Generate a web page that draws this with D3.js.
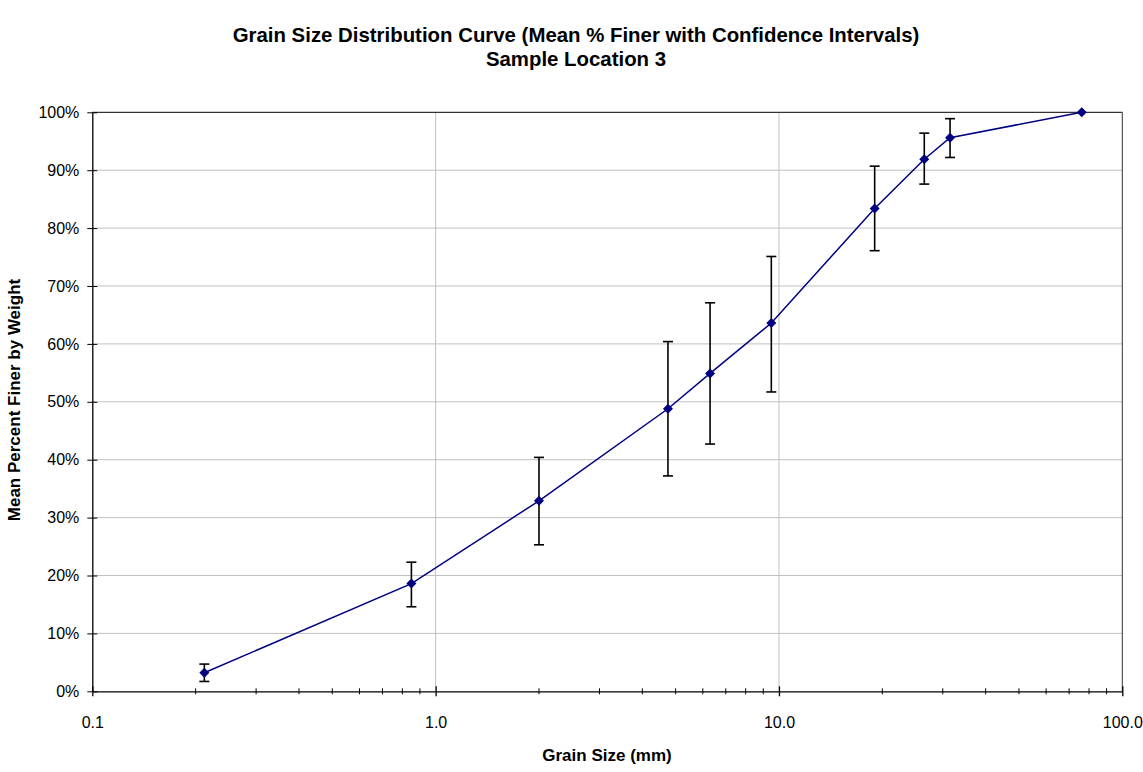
<!DOCTYPE html>
<html><head><meta charset="utf-8">
<script src="https://cdn.jsdelivr.net/npm/d3@7"></script>
<style>body{margin:0;background:#fff}svg{display:block;font-family:"Liberation Sans",Arial,sans-serif}</style>
</head><body>
<svg id="c" width="1143" height="772"></svg>
<script>
const grainSize = [0.212, 0.85, 2.0, 4.75, 6.3, 9.5, 19.0, 26.5, 31.5, 76.2];
const meanFiner = [3.2, 18.6, 32.9, 48.8, 54.9, 63.6, 83.4, 91.9, 95.6, 100];
const upperCI = [4.7, 22.3, 40.4, 60.4, 67.1, 75.1, 90.7, 96.4, 98.9, null];
const lowerCI = [1.7, 14.6, 25.3, 37.2, 42.7, 51.7, 76.1, 87.6, 92.2, null];
const xTicks = [0.1, 1, 10, 100];
const xTickLabels = ["0.1", "1.0", "10.0", "100.0"];
const yTicks = [0, 10, 20, 30, 40, 50, 60, 70, 80, 90, 100];

const svg = d3.select("#c");
const L = 92.3, R = 1122.3, T = 112.3, B = 691.3;
const x = d3.scaleLog().domain([0.1, 100]).range([L, R]);
const y = d3.scaleLinear().domain([0, 100]).range([B, T]);
const FF = "Liberation Sans, Arial, sans-serif";

// gridlines
svg.append("g").selectAll("line").data(yTicks.filter(d => d > 0 && d < 100)).join("line")
  .attr("x1", L).attr("x2", R).attr("y1", d => y(d)).attr("y2", d => y(d))
  .attr("stroke", "#c0c0c0").attr("stroke-width", 1);
svg.append("g").selectAll("line").data(xTicks.filter(d => d > 0.1 && d < 100)).join("line")
  .attr("x1", d => x(d)).attr("x2", d => x(d)).attr("y1", T).attr("y2", B)
  .attr("stroke", "#c0c0c0").attr("stroke-width", 1);

// border top/right
svg.append("line").attr("x1", L).attr("x2", R).attr("y1", T).attr("y2", T).attr("stroke", "#000");
svg.append("line").attr("x1", R).attr("x2", R).attr("y1", T).attr("y2", B).attr("stroke", "#333");

// y axis
const yAxis = d3.axisLeft(y).tickValues(yTicks).tickFormat(d => d + "%").tickSizeInner(5).tickSizeOuter(0).tickPadding(8);
const gy = svg.append("g").attr("transform", `translate(${L},0)`).call(yAxis);
gy.select(".domain").attr("stroke", "#000").attr("stroke-width", 1.3);
gy.selectAll(".tick line").attr("x2", 5).attr("x1", -5).attr("stroke", "#000");
gy.selectAll("text").attr("font-size", 16).attr("fill", "#000").attr("font-family", FF);

// x axis: minor ticks
const minor = [];
for (let dec = 0.1; dec < 100; dec *= 10) for (let k = 2; k <= 9; k++) minor.push(+(dec * k).toPrecision(3));
svg.append("g").selectAll("line").data(minor).join("line")
  .attr("x1", d => x(d)).attr("x2", d => x(d)).attr("y1", B - 3).attr("y2", B + 3)
  .attr("stroke", "#000");
const xAxis = d3.axisBottom(x).tickValues(xTicks).tickFormat((d, i) => xTickLabels[i]).tickSizeInner(5).tickSizeOuter(0).tickPadding(20);
const gx = svg.append("g").attr("transform", `translate(0,${B})`).call(xAxis);
gx.select(".domain").attr("stroke", "#000").attr("stroke-width", 1.3);
gx.selectAll(".tick line").attr("y1", -5).attr("y2", 5).attr("stroke", "#000").attr("stroke-width", 1.3);
gx.selectAll("text").attr("font-size", 16).attr("fill", "#000").attr("font-family", FF);

// data
const data = grainSize.map((g, i) => ({g, m: meanFiner[i], u: upperCI[i], l: lowerCI[i]}));

// error bars
const eb = svg.append("g").attr("stroke", "#000").attr("stroke-width", 1.6);
data.filter(d => d.u != null).forEach(d => {
  const cx = x(d.g);
  eb.append("line").attr("x1", cx).attr("x2", cx).attr("y1", y(d.u)).attr("y2", y(d.l));
  eb.append("line").attr("x1", cx - 5).attr("x2", cx + 5).attr("y1", y(d.u)).attr("y2", y(d.u));
  eb.append("line").attr("x1", cx - 5).attr("x2", cx + 5).attr("y1", y(d.l)).attr("y2", y(d.l));
});

// line
svg.append("path").datum(data)
  .attr("d", d3.line().x(d => x(d.g)).y(d => y(d.m)))
  .attr("fill", "none").attr("stroke", "#000080").attr("stroke-width", 1.5);

// markers
svg.append("g").selectAll("path").data(data).join("path")
  .attr("transform", d => `translate(${x(d.g)},${y(d.m)})`)
  .attr("d", "M0,-5L5,0L0,5L-5,0Z").attr("fill", "#000080");

// titles
svg.append("text").attr("x", 576).attr("y", 42).attr("text-anchor", "middle")
  .attr("font-size", 20.4).attr("font-weight", "bold").text("Grain Size Distribution Curve (Mean % Finer with Confidence Intervals)");
svg.append("text").attr("x", 576).attr("y", 66).attr("text-anchor", "middle")
  .attr("font-size", 20.4).attr("font-weight", "bold").text("Sample Location 3");
svg.append("text").attr("x", 607).attr("y", 761).attr("text-anchor", "middle")
  .attr("font-size", 17).attr("font-weight", "bold").text("Grain Size (mm)");
svg.append("text").attr("transform", "translate(20,400) rotate(-90)").attr("text-anchor", "middle")
  .attr("font-size", 17).attr("font-weight", "bold").text("Mean Percent Finer by Weight");
</script>
</body></html>
